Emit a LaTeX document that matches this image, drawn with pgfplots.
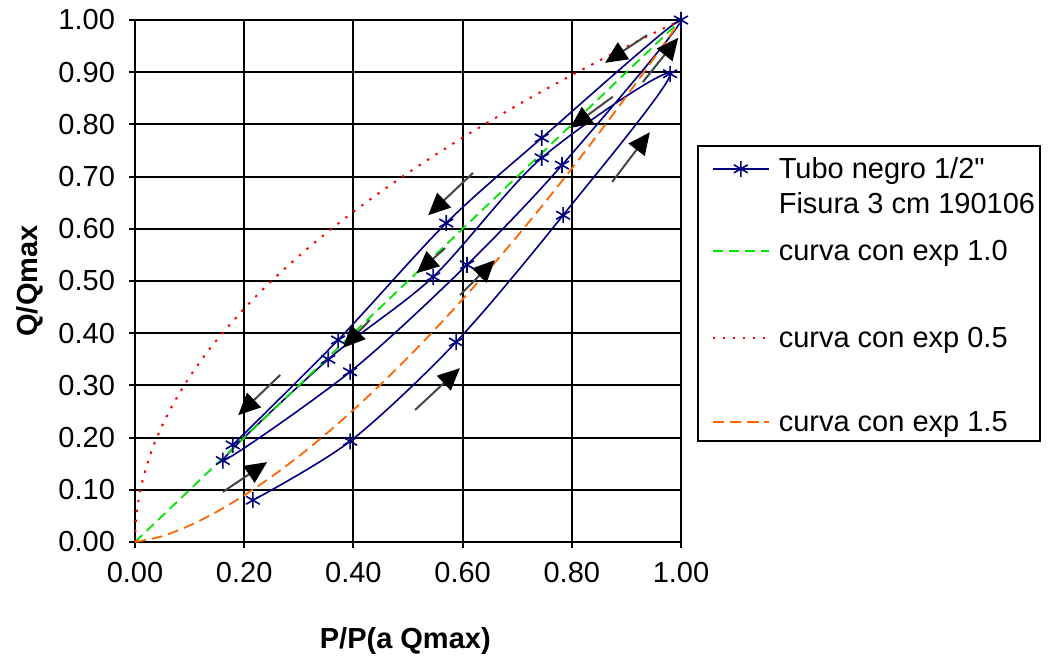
\documentclass[border=0pt]{standalone}
\usepackage{fontspec}
\setmainfont{Liberation Sans}
\newfontfamily\rawfont{Liberation Sans}
\usepackage{pgfplots}
\pgfplotsset{compat=1.18}
\usetikzlibrary{arrows.meta}
\definecolor{exblue}{RGB}{0,0,128}
\definecolor{exgreen}{RGB}{0,230,0}
\definecolor{exred}{RGB}{255,0,0}
\definecolor{exorange}{RGB}{255,102,0}
\definecolor{arrgray}{RGB}{70,70,70}
\begin{document}
\begin{tikzpicture}[font=\fontsize{14.5}{17}\selectfont]
\useasboundingbox (-67.5pt,-61.5pt) rectangle (456.5pt,271pt);
\begin{axis}[
  at={(0pt,0pt)}, anchor=south west,
  scale only axis, width=273pt, height=261pt,
  xmin=0, xmax=1, ymin=0, ymax=1,
  xtick={0,0.2,0.4,0.6,0.8,1},
  ytick={0,0.1,0.2,0.3,0.4,0.5,0.6,0.7,0.8,0.9,1},
  scaled ticks=false,
  xticklabel style={/pgf/number format/fixed,/pgf/number format/fixed zerofill,/pgf/number format/precision=2,/pgf/number format/assume math mode=true, yshift=-3.5pt},
  yticklabel style={/pgf/number format/fixed,/pgf/number format/fixed zerofill,/pgf/number format/precision=2,/pgf/number format/assume math mode=true, xshift=-3.5pt},
  grid=major,
  major grid style={black, line width=1pt},
  axis line style={black, line width=1pt},
  tick style={black, line width=1pt},
  tick align=outside, major tick length=3pt,
  xtick pos=left, ytick pos=left,
  xlabel={\bfseries P/P(a Qmax)},
  ylabel={\bfseries Q/Qmax},
  xlabel style={at={(axis description cs:0.495,-0.19)}, anchor=center},
  ylabel style={at={(axis description cs:-0.192,0.5)}, anchor=center},
  clip=false,
  legend style={
    at={(axis description cs:1,0.7605)}, xshift=8pt, anchor=north west,
    draw=black, line width=0.8pt, fill=white,
    inner xsep=2.5pt, inner ysep=3pt,
    row sep=0pt, column sep=4.5pt,
    cells={anchor=base west},
    nodes={inner sep=0pt},
  },
  legend image code/.code={
    \path (0pt,0pt);
    \draw[mark repeat=2,mark phase=2,#1,yshift=5pt] plot coordinates {(4.5pt,0pt) (18.5pt,0pt) (32.5pt,0pt)};
  },
]
% measured series (hysteresis loops), in order of measurement
\addplot[color=exblue, line width=0.8pt, smooth, tension=0.5, mark=asterisk, mark size=4pt, mark options={solid, line width=0.8pt}] coordinates {
(0.216,0.080) (0.394,0.193) (0.588,0.383) (0.784,0.626) (0.980,0.897)
(0.745,0.736) (0.546,0.508) (0.354,0.350) (0.161,0.156)
(0.394,0.326) (0.608,0.531) (0.782,0.722) (1.000,1.000)
(0.745,0.774) (0.570,0.611) (0.372,0.387) (0.179,0.186)
};
\addlegendentry{\rule[-3pt]{0pt}{16.5pt}Tubo negro 1/2{\rawfont"}}
\addlegendimage{empty legend}
\addlegendentry{\rule[-3pt]{0pt}{19pt}Fisura 3 cm 190106}
\addplot[color=exgreen, line width=0.9pt, dash pattern=on 5pt off 3pt] coordinates {
(0,0) (0.25,0.25) (0.5,0.5) (0.75,0.75) (1,1)
};
\addlegendentry{\rule[-3pt]{0pt}{25pt}curva con exp 1.0}
\addplot[color=exred, line width=1pt, dash pattern=on 1.2pt off 3.8pt, smooth] coordinates {
(0,0) (0.0025,0.05) (0.01,0.1) (0.02,0.1414) (0.03,0.1732) (0.04,0.2) (0.06,0.2449) (0.08,0.2828) (0.1,0.3162) (0.125,0.3536) (0.15,0.3873) (0.2,0.4472) (0.25,0.5) (0.3,0.5477) (0.35,0.5916) (0.4,0.6325) (0.45,0.6708) (0.5,0.7071) (0.55,0.7416) (0.6,0.7746) (0.65,0.8062) (0.7,0.8367) (0.75,0.8660) (0.8,0.8944) (0.85,0.9220) (0.9,0.9487) (0.95,0.9747) (1,1)
};
\addlegendentry{\rule[-3pt]{0pt}{45pt}curva con exp 0.5}
\addplot[color=exorange, line width=0.9pt, dash pattern=on 5.5pt off 3pt, smooth] coordinates {
(0,0) (0.05,0.0112) (0.1,0.0316) (0.15,0.0581) (0.2,0.0894) (0.25,0.125) (0.3,0.1643) (0.35,0.2071) (0.4,0.2530) (0.45,0.3019) (0.5,0.3536) (0.55,0.4079) (0.6,0.4648) (0.65,0.5240) (0.7,0.5857) (0.75,0.6495) (0.8,0.7155) (0.85,0.7837) (0.9,0.8538) (0.95,0.9260) (1,1)
};
\addlegendentry{\rule[-5.5pt]{0pt}{46pt}curva con exp 1.5}
% direction arrows
\begin{scope}[arrgray, line width=1pt, -{Triangle[length=11pt,width=10pt,black]}]
\draw (axis cs:0.161,0.096) -- (axis cs:0.242,0.153);
\draw (axis cs:0.513,0.253) -- (axis cs:0.595,0.333);
\draw (axis cs:0.595,0.473) -- (axis cs:0.659,0.540);
\draw (axis cs:0.874,0.690) -- (axis cs:0.943,0.785);
\draw (axis cs:0.930,0.881) -- (axis cs:0.995,0.966);
\draw (axis cs:0.938,0.971) -- (axis cs:0.861,0.918);
\draw (axis cs:0.875,0.853) -- (axis cs:0.797,0.793);
\draw (axis cs:0.619,0.707) -- (axis cs:0.537,0.626);
\draw (axis cs:0.568,0.563) -- (axis cs:0.516,0.515);
\draw (axis cs:0.430,0.425) -- (axis cs:0.381,0.372);
\draw (axis cs:0.266,0.320) -- (axis cs:0.189,0.243);
\end{scope}
\end{axis}
\end{tikzpicture}
\end{document}
